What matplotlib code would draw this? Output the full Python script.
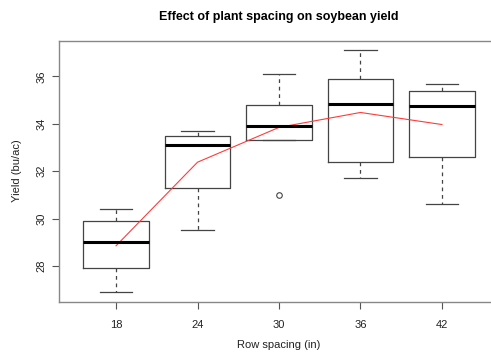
import matplotlib
matplotlib.use("Agg")
import matplotlib.pyplot as plt

# Row spacing groups and box summaries (bu/ac)
spacing = ["18", "24", "30", "36", "42"]
whisk_lo = [26.9, 29.5, 33.3, 31.7, 30.6]
box_lo = [27.9, 31.3, 33.3, 32.4, 32.6]
medians = [29.0, 33.1, 33.9, 34.85, 34.75]
box_hi = [29.9, 33.5, 34.8, 35.9, 35.4]
whisk_hi = [30.4, 33.7, 36.1, 37.1, 35.7]
outliers = [[], [], [31.0], [], []]
means = [28.85, 32.38, 33.85, 34.48, 33.97]

plt.rcParams["font.family"] = ["Liberation Sans", "DejaVu Sans"]

fig = plt.figure(figsize=(4.91, 3.52), dpi=100)
ax = fig.add_axes([59 / 491, 1 - 301.7 / 352, 440 / 491, 261 / 352])

stats = []
for i in range(len(spacing)):
    stats.append(dict(whislo=whisk_lo[i], q1=box_lo[i], med=medians[i],
                      q3=box_hi[i], whishi=whisk_hi[i], fliers=outliers[i]))

pos = list(range(1, len(spacing) + 1))
line_col = "#444444"
ax.bxp(stats, positions=pos, widths=0.8, showfliers=True,
       boxprops=dict(color=line_col, linewidth=0.9),
       whiskerprops=dict(color=line_col, linewidth=0.9, linestyle=(0, (3, 3))),
       capprops=dict(color=line_col, linewidth=0.9),
       capwidths=0.4,
       medianprops=dict(color="black", linewidth=2.2),
       flierprops=dict(marker="o", markersize=4, markerfacecolor="none",
                       markeredgecolor=line_col, markeredgewidth=0.8))

ax.plot(pos, means, color="#ff3b3b", linewidth=0.8)

ax.set_xlim(0.3, 5.7)
ax.set_ylim(26.49, 37.51)
ax.set_xticks(pos)
ax.set_xticklabels(spacing)
ax.set_yticks([28, 30, 32, 34, 36])
for lab in ax.get_yticklabels():
    lab.set_rotation(90)
    lab.set_va("center")

ax.tick_params(direction="out", length=5, width=0.8, colors="#555555",
               labelcolor="#222222", labelsize=8, pad=8)
ax.tick_params(axis="y", pad=4)
for sp in ax.spines.values():
    sp.set_color("#888888")
    sp.set_linewidth(1.0)

# axis titles placed like R's mtext lines
fig.text(279 / 491, 1 - 345 / 352, "Row spacing (in)", ha="center",
         va="center", fontsize=8, color="#222222")
fig.text(17 / 491, 1 - 171 / 352, "Yield (bu/ac)", ha="center",
         va="center", rotation=90, fontsize=8, color="#222222")
fig.text(279 / 491, 1 - 17 / 352, "Effect of plant spacing on soybean yield",
         ha="center", va="center", fontsize=9, fontweight="bold")

fig.savefig("out.png", dpi=100)
